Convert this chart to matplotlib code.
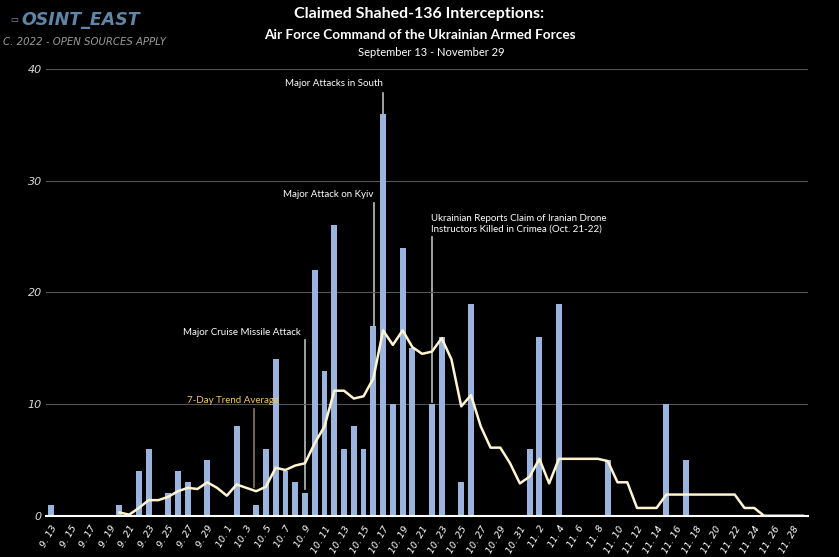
import datetime as dt
import matplotlib
matplotlib.use("Agg")
import matplotlib.pyplot as plt

# daily dates, Sept 13 .. Nov 29
start = dt.date(2022, 9, 13)
days = [start + dt.timedelta(days=i) for i in range(78)]
day_labels = [f"{d.month}. {d.day}" for d in days]

# claimed interceptions per day (only non-zero days listed)
intercepts = {
    "9. 13": 1, "9. 20": 1, "9. 22": 4, "9. 23": 6, "9. 25": 2, "9. 26": 4,
    "9. 27": 3, "9. 29": 5, "10. 2": 8, "10. 4": 1, "10. 5": 6, "10. 6": 14,
    "10. 7": 4, "10. 8": 3, "10. 9": 2, "10. 10": 22, "10. 11": 13,
    "10. 12": 26, "10. 13": 6, "10. 14": 8, "10. 15": 6, "10. 16": 17,
    "10. 17": 36, "10. 18": 10, "10. 19": 24, "10. 20": 15, "10. 22": 10,
    "10. 23": 16, "10. 25": 3, "10. 26": 19, "11. 1": 6, "11. 2": 16,
    "11. 4": 19, "11. 9": 5, "11. 15": 10, "11. 17": 5,
}
counts = [intercepts.get(lbl, 0) for lbl in day_labels]

# 7-day trend line as drawn, starting Sept 20
trend_start = 7
trend = [
    0.3, 0.1, 0.7, 1.4, 1.4, 1.7, 2.2, 2.5, 2.4, 3.0, 2.5,          # 9.20-9.30
    1.8, 2.8, 2.5, 2.2, 2.6, 4.3, 4.1, 4.5, 4.7, 6.5, 8.0,          # 10.1-10.11
    11.2, 11.2, 10.5, 10.7, 12.3, 16.6, 15.3, 16.6, 15.1, 14.5,     # 10.12-10.21
    14.7, 15.9, 14.0, 9.8, 10.8, 8.0, 6.1, 6.1, 4.7, 2.9,           # 10.22-10.31
    3.5, 5.1, 2.9, 5.1, 5.1, 5.1, 5.1, 5.1, 4.9, 3.0, 3.0,          # 11.1-11.11
    0.7, 0.7, 0.7, 1.9, 1.9, 1.9, 1.9, 1.9, 1.9, 1.9, 1.9,          # 11.12-11.22
    0.7, 0.7, 0.0, 0.0, 0.0, 0.0, 0.0,                              # 11.23-11.29
]

# event notes: label, text right edge (day index), text y, pointer day index, pointer top, pointer bottom
note_labels = ["Major Attacks in South", "Major Attack on Kyiv",
               "Major Cruise Missile Attack", "7-Day Trend Average"]
note_text_x = [34.0, 33.0, 25.6, 23.3]
note_text_y = [38.7, 28.8, 16.4, 10.3]
note_ptr_x = [34, 33.05, 26.0, 20.8]
note_ptr_top = [37.9, 28.0, 15.7, 9.6]
note_ptr_bottom = [36.0, 16.9, 2.4, 2.6]
note_colors = ["white", "white", "white", "#f2c46a"]
ptr_colors = ["#bdbdbd", "#bdbdbd", "#bdbdbd", "#8a7a55"]

FONT = "Lato"
BG = "black"
BAR = "#9bb4de"
LINE = "#fff4cf"

fig = plt.figure(figsize=(8.39, 5.57), dpi=100, facecolor=BG)
ax = fig.add_axes([0.055, 0.074, 0.908, 0.802], facecolor=BG)

x = list(range(len(days)))
ax.bar(x, counts, width=0.6, color=BAR, zorder=2)
ax.plot(x[trend_start:trend_start + len(trend)], trend, color=LINE, lw=1.8, zorder=3)

ax.set_xlim(-0.5, len(days) - 0.5)
ax.set_ylim(0, 40)
ax.set_yticks([0, 10, 20, 30, 40])
ax.set_yticklabels(["0", "10", "20", "30", "40"], fontstyle="italic",
                   fontsize=8, color="#d8d8d8", family="DejaVu Sans")
ax.grid(axis="y", color="#555555", lw=0.8, zorder=0)
ax.tick_params(axis="y", length=0, pad=3)

ax.set_xticks(x[::2])
ax.set_xticklabels(day_labels[::2], rotation=60, ha="right", rotation_mode="anchor",
                   fontsize=6.8, color="white", fontstyle="italic", family="DejaVu Sans")
ax.tick_params(axis="x", length=0, pad=6)

for side in ["top", "right", "left"]:
    ax.spines[side].set_visible(False)
ax.spines["bottom"].set_color("white")
ax.spines["bottom"].set_linewidth(1.5)
ax.spines["bottom"].set_zorder(4)

for i, text in enumerate(note_labels):
    ax.plot([note_ptr_x[i]] * 2, [note_ptr_top[i], note_ptr_bottom[i]],
            color=ptr_colors[i], lw=1.2, zorder=1)
    ax.text(note_text_x[i], note_text_y[i], text, ha="right", va="center",
            fontsize=7, color=note_colors[i], family=FONT)

# Oct 21-22 report note
xi = day_labels.index("10. 22")
ax.plot([xi, xi], [25.0, 10.2], color="#bdbdbd", lw=1.2, zorder=1)
ax.text(xi - 0.05, 26.15, "Ukrainian Reports Claim of Iranian Drone\nInstructors Killed in Crimea (Oct. 21-22)",
        ha="left", va="center", fontsize=7, color="white", family=FONT, linespacing=1.2)

# titles
fig.text(0.5, 0.975, "Claimed Shahed-136 Interceptions:", ha="center", va="center",
         fontsize=11.5, fontweight="bold", color="white", family=FONT)
fig.text(0.5, 0.937, "Air Force Command of the Ukrainian Armed Forces", ha="center",
         va="center", fontsize=9.8, fontweight="bold", color="white", family=FONT)
fig.text(0.514, 0.906, "September 13 - November 29", ha="center", va="center",
         fontsize=8, color="white", family=FONT)

# logo
fig.text(0.012, 0.964, "▭", ha="left", va="center", fontsize=6, color="#7f98b0")
fig.text(0.026, 0.964, "OSINT_EAST", ha="left", va="center", fontsize=12.5,
         fontweight="bold", fontstyle="italic", color="#5f86a8", family="DejaVu Sans")
fig.text(0.004, 0.924, "C. 2022 - OPEN SOURCES APPLY", ha="left", va="center",
         fontsize=7.3, fontstyle="italic", color="#9a9a9a", family="DejaVu Sans")

fig.savefig("out.png", dpi=100, facecolor=BG)
